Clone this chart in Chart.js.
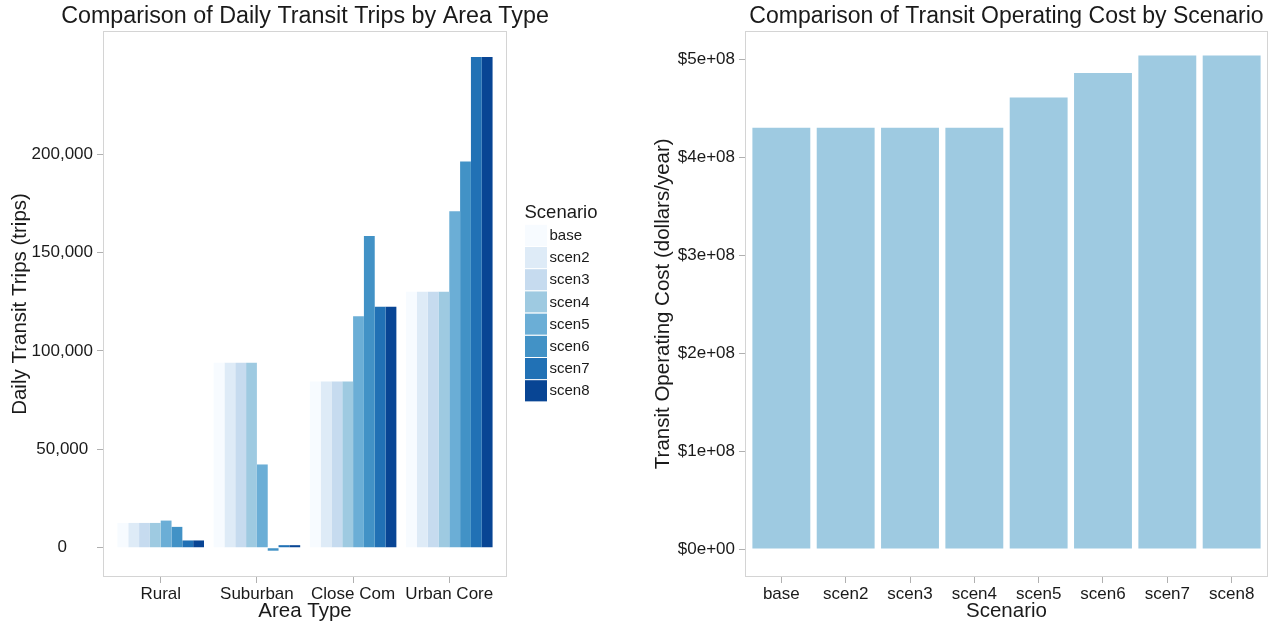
<!DOCTYPE html>
<html>
<head>
<meta charset="utf-8">
<script src="https://cdn.jsdelivr.net/npm/chart.js@4.4.1/dist/chart.umd.min.js"></script>
<style>
  html, body { margin: 0; padding: 0; background: #ffffff; }
  #wrap { position: relative; width: 1276px; height: 625px; }
  #left { position: absolute; left: 0; top: 0; width: 610px; height: 625px; }
  #right { position: absolute; left: 640px; top: 0; width: 636px; height: 625px; }
</style>
</head>
<body>
<div id="wrap">
  <div id="left"><canvas id="c1" width="610" height="625"></canvas></div>
  <div id="right"><canvas id="c2" width="636" height="625"></canvas></div>
</div>
<script>
// ---------------- DATA ----------------
const areaTypes = ['Rural', 'Suburban', 'Close Com', 'Urban Core'];
const scenarios = ['base', 'scen2', 'scen3', 'scen4', 'scen5', 'scen6', 'scen7', 'scen8'];
// daily transit trips per scenario, in order of areaTypes
const tripsBase  = [12600, 94000, 84500, 130000];
const tripsScen2 = [12600, 94000, 84500, 130000];
const tripsScen3 = [12600, 94000, 84500, 130000];
const tripsScen4 = [12600, 94000, 84500, 130000];
const tripsScen5 = [13800, 42300, 117600, 170900];
const tripsScen6 = [10600, -1500, 158300, 196200];
const tripsScen7 = [3700, 1300, 122400, 249300];
const tripsScen8 = [3700, 1300, 122400, 249300];
// transit operating cost (dollars/year) per scenario
const operatingCost = [4.30e8, 4.30e8, 4.30e8, 4.30e8, 4.61e8, 4.86e8, 5.04e8, 5.04e8];
const tripTicks = [0, 50000, 100000, 150000, 200000];
const costTicks = [0, 1e8, 2e8, 3e8, 4e8, 5e8];

// ---------------- STYLE ----------------
const blues = ['#F7FBFF', '#DEEBF7', '#C6DBEF', '#9ECAE1', '#6BAED6', '#4292C6', '#2171B5', '#084594'];
const FONT = '"Liberation Sans", Arial, Helvetica, sans-serif';
const TXT = '#1a1a1a';
const BORDER = '#d4d4d4';
const TICKC = '#b0b0b0';

Chart.defaults.font.family = FONT;
Chart.defaults.color = TXT;

const panelBorder = {
  id: 'panelBorder',
  afterDatasetsDraw(chart) {
    const a = chart.chartArea, ctx = chart.ctx;
    ctx.save();
    ctx.strokeStyle = BORDER;
    ctx.lineWidth = 1;
    ctx.strokeRect(Math.round(a.left) + 0.5, Math.round(a.top) + 0.5,
                   Math.round(a.right - a.left) - 1, Math.round(a.bottom - a.top) - 1);
    ctx.restore();
  }
};

const legendPlugin = {
  id: 'sideLegend',
  afterDraw(chart) {
    const ctx = chart.ctx;
    const x0 = 524.5, top = 224.3, rowH = 22.2, keyW = 23;
    ctx.save();
    ctx.fillStyle = TXT;
    ctx.font = '18.5px ' + FONT;
    ctx.textBaseline = 'middle';
    ctx.textAlign = 'left';
    ctx.fillText('Scenario', x0, 213);
    chart.data.datasets.forEach((ds, i) => {
      const y = top + i * rowH;
      ctx.fillStyle = ds.backgroundColor;
      ctx.fillRect(x0, y, keyW, rowH);
      ctx.strokeStyle = '#ffffff';
      ctx.lineWidth = 1;
      ctx.strokeRect(x0, y, keyW, rowH);
      ctx.fillStyle = TXT;
      ctx.font = '15px ' + FONT;
      ctx.fillText(ds.label, x0 + keyW + 2, y + rowH / 2 + 0.5);
    });
    ctx.restore();
  }
};

function sci(v) {
  if (v === 0) return '$0e+00';
  const e = Math.floor(Math.log10(Math.abs(v)) + 1e-9);
  const m = Math.round(v / Math.pow(10, e));
  return '$' + m + 'e+' + String(e).padStart(2, '0');
}

// ---------------- LEFT CHART ----------------
const tripSeries = [tripsBase, tripsScen2, tripsScen3, tripsScen4, tripsScen5, tripsScen6, tripsScen7, tripsScen8];

new Chart(document.getElementById('c1'), {
  type: 'bar',
  data: {
    datasets: scenarios.map((s, i) => ({
      label: s,
      data: tripSeries[i].map((v, j) => ({ x: j, y: v })),
      backgroundColor: blues[i],
      borderWidth: 0,
      categoryPercentage: 0.9,
      barPercentage: 1.0
    }))
  },
  options: {
    responsive: false,
    animation: false,
    layout: { padding: 0 },
    plugins: {
      legend: { display: false },
      tooltip: { enabled: false },
      title: {
        display: true,
        text: 'Comparison of Daily Transit Trips by Area Type',
        fullSize: true,
        color: TXT,
        font: { size: 23.3, weight: 'normal' },
        padding: { top: 3, bottom: 0 }
      }
    },
    scales: {
      x: {
        type: 'linear',
        min: -0.6, max: 3.6,
        offset: false,
        afterFit(s) { s.height = 48; },
        afterBuildTicks(s) { s.ticks = areaTypes.map((_, i) => ({ value: i })); },
        ticks: {
          autoSkip: false, maxRotation: 0, includeBounds: false,
          color: TXT, font: { size: 17 }, padding: 1,
          callback: (v) => areaTypes[v]
        },
        grid: { offset: false, drawOnChartArea: false, drawTicks: true, tickLength: 6, color: TICKC, lineWidth: 1 },
        border: { display: false },
        title: { display: true, text: 'Area Type', color: TXT, font: { size: 20.5 }, padding: { top: 0, bottom: 1 } }
      },
      y: {
        min: -14860, max: 262500,
        afterFit(s) { s.width = 103; },
        afterBuildTicks(s) { s.ticks = tripTicks.map(v => ({ value: v })); },
        ticks: {
          color: TXT, font: { size: 17 }, padding: 4, crossAlign: 'center',
          callback: (v) => v.toLocaleString('en-US')
        },
        grid: { offset: false, drawOnChartArea: false, drawTicks: true, tickLength: 6, color: TICKC, lineWidth: 1 },
        border: { display: false },
        title: { display: true, text: 'Daily Transit Trips (trips)', color: TXT, font: { size: 20.5 }, padding: { top: 8, bottom: 0 } }
      },
      legendSpace: {
        type: 'linear',
        position: 'right',
        display: true,
        afterFit(s) { s.width = 103; },
        ticks: { display: false },
        grid: { display: false, drawTicks: false },
        border: { display: false },
        title: { display: false }
      }
    }
  },
  plugins: [panelBorder, legendPlugin]
});

// ---------------- RIGHT CHART ----------------
new Chart(document.getElementById('c2'), {
  type: 'bar',
  data: {
    datasets: [{
      label: 'Transit Operating Cost',
      data: operatingCost.map((v, i) => ({ x: i, y: v })),
      backgroundColor: '#9ECAE1',
      borderWidth: 0,
      categoryPercentage: 1.0,
      barPercentage: 0.9
    }]
  },
  options: {
    responsive: false,
    animation: false,
    layout: { padding: { left: 0, right: 8, top: 0, bottom: 0 } },
    plugins: {
      legend: { display: false },
      tooltip: { enabled: false },
      title: {
        display: true,
        text: 'Comparison of Transit Operating Cost by Scenario',
        fullSize: false,
        color: TXT,
        font: { size: 23, weight: 'normal' },
        padding: { top: 3, bottom: 0 }
      }
    },
    scales: {
      x: {
        type: 'linear',
        min: -0.565, max: 7.565,
        offset: false,
        afterFit(s) { s.height = 48; },
        afterBuildTicks(s) { s.ticks = scenarios.map((_, i) => ({ value: i })); },
        ticks: {
          autoSkip: false, maxRotation: 0, includeBounds: false,
          color: TXT, font: { size: 17 }, padding: 1,
          callback: (v) => scenarios[v]
        },
        grid: { offset: false, drawOnChartArea: false, drawTicks: true, tickLength: 6, color: TICKC, lineWidth: 1 },
        border: { display: false },
        title: { display: true, text: 'Scenario', color: TXT, font: { size: 20.5 }, padding: { top: 0, bottom: 1 } }
      },
      y: {
        min: -0.2855e8, max: 5.293e8,
        afterFit(s) { s.width = 105; },
        afterBuildTicks(s) { s.ticks = costTicks.map(v => ({ value: v })); },
        ticks: {
          color: TXT, font: { size: 17 }, padding: 4, crossAlign: 'center',
          callback: (v) => sci(v)
        },
        grid: { offset: false, drawOnChartArea: false, drawTicks: true, tickLength: 6, color: TICKC, lineWidth: 1 },
        border: { display: false },
        title: { display: true, text: 'Transit Operating Cost (dollars/year)', color: TXT, font: { size: 20.5 }, padding: { top: 11, bottom: 0 } }
      }
    }
  },
  plugins: [panelBorder]
});
</script>
</body>
</html>
